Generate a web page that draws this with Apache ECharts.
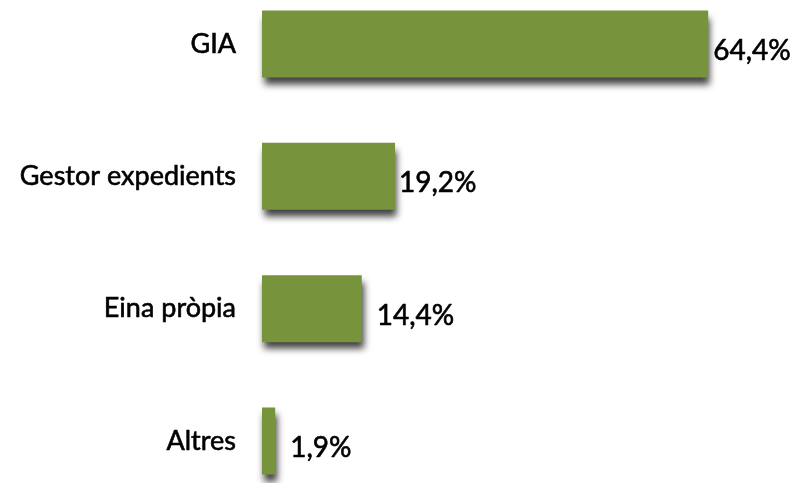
<!DOCTYPE html>
<html>
<head>
<meta charset="utf-8">
<script src="https://cdn.jsdelivr.net/npm/echarts@6/dist/echarts.min.js"></script>
<style>
  html, body { margin: 0; padding: 0; background: #fff; }
  #chart { width: 798px; height: 483px; }
</style>
</head>
<body>
<div id="chart"></div>
<script>
// categories, top to bottom
var categories = ['GIA', 'Gestor expedients', 'Eina pròpia', 'Altres'];
// percentages
var values = [64.4, 19.2, 14.4, 1.9];
var valueLabels = ['64,4%', '19,2%', '14,4%', '1,9%'];

// the labels were placed by hand in the original, so the gap varies
var labelGap = [5, 4, 15, 15];

var myChart = echarts.init(document.getElementById('chart'));

var seriesData = values.map(function (v, i) {
    return {
        value: v,
        label: { distance: labelGap[i] }
    };
});

var option = {
    animation: false,
    grid: {
        left: 262,
        right: 51,
        top: 44,
        bottom: 42
    },
    xAxis: {
        type: 'value',
        min: 0,
        max: 70,
        show: false
    },
    yAxis: {
        type: 'category',
        inverse: true,
        boundaryGap: false,
        data: categories,
        axisLine: { show: false },
        axisTick: { show: false },
        splitLine: { show: false },
        axisLabel: {
            margin: 26,
            color: '#000',
            fontFamily: 'Lato',
            fontSize: 27,
            padding: [4, 0, 0, 0],
            textBorderColor: '#000',
            textBorderWidth: 0.6
        }
    },
    series: [{
        type: 'bar',
        data: seriesData,
        barWidth: 67,
        clip: false,
        itemStyle: {
            color: '#77933C',
            shadowColor: 'rgba(0,0,0,0.75)',
            shadowBlur: 7,
            shadowOffsetX: 2,
            shadowOffsetY: 7
        },
        label: {
            show: true,
            position: 'right',
            offset: [0, 7],
            color: '#000',
            fontFamily: 'Lato',
            fontSize: 28,
            textBorderColor: '#000',
            textBorderWidth: 0.6,
            formatter: function (p) {
                return valueLabels[p.dataIndex];
            }
        }
    }]
};

myChart.setOption(option);
</script>
</body>
</html>
